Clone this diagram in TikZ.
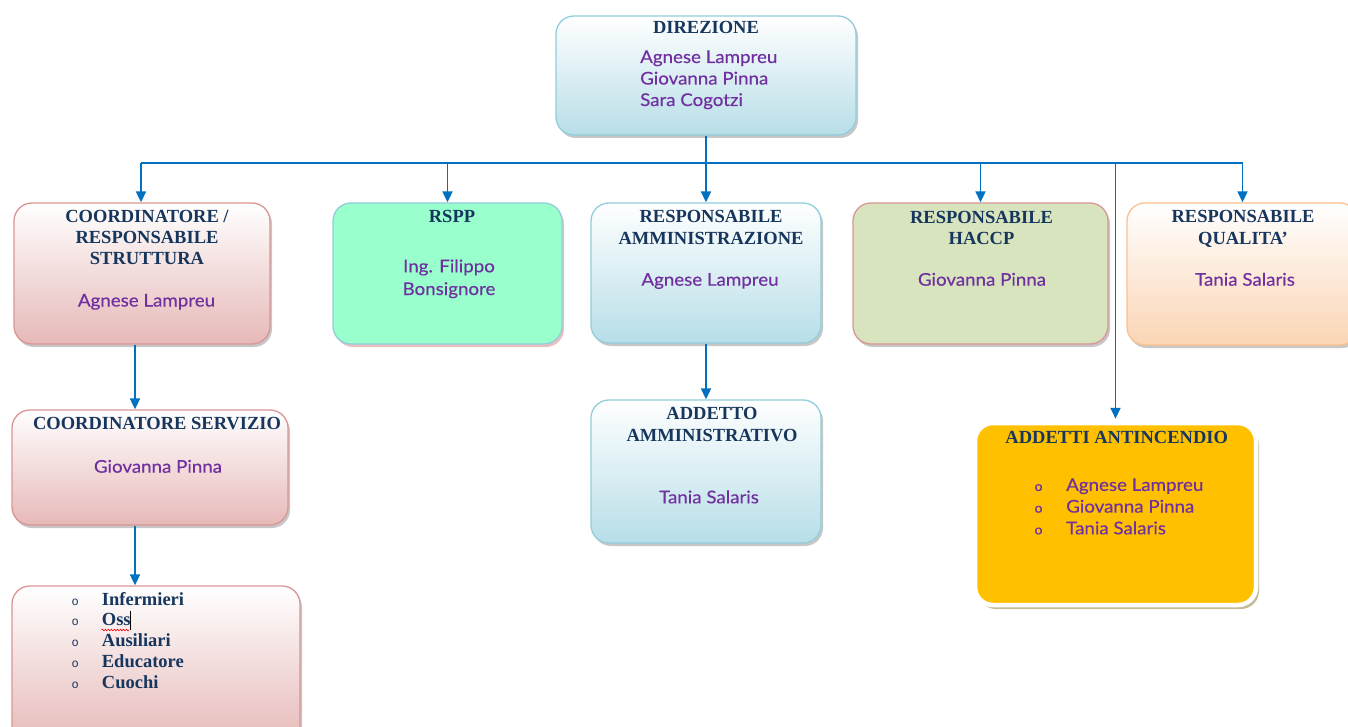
\documentclass[tikz,border=0pt]{standalone}
\usepackage{fontspec}
\setmainfont{Liberation Serif}
\newfontfamily\namefont{Lato}[FakeStretch=1.07, FakeBold=0.35]
\newfontfamily\bulfont{Liberation Mono}
\usetikzlibrary{arrows.meta,shadows,decorations.pathmorphing}
\definecolor{navy}{HTML}{17365D}
\definecolor{purp}{HTML}{7030A0}
\definecolor{arrowblue}{HTML}{0070C0}
\definecolor{bluefill}{HTML}{B7DEE8}
\definecolor{blueline}{HTML}{92CDDC}
\definecolor{pinkfill}{HTML}{E6B9B8}
\definecolor{pinkline}{HTML}{D99694}
\definecolor{orangefill}{HTML}{FBD5B5}
\definecolor{orangeline}{HTML}{FAC090}
\definecolor{mint}{HTML}{99FFCC}
\definecolor{olivefill}{HTML}{D7E4BD}
\definecolor{gold}{HTML}{FFC000}
\definecolor{tan}{HTML}{C4BD97}
\newcommand{\lbul}{\makebox[30.3pt][l]{\fontsize{12}{12}\selectfont\mdseries\bulfont o}}
\newcommand{\abul}{\makebox[31.6pt][l]{\fontsize{13}{13}\selectfont\namefont o}}
\tikzset{
  box/.style={rectangle, rounded corners=18pt, inner sep=0pt, line width=1.3pt},
  shad/.style={drop shadow={shadow xshift=2pt, shadow yshift=-3pt, fill=black, opacity=0.22}},
  bluebox/.style={box, shad, draw=blueline, top color=white, bottom color=bluefill},
  pinkbox/.style={box, shad, draw=pinkline, top color=white, bottom color=pinkfill},
  orangebox/.style={box, shad, draw=orangeline, top color=white, bottom color=orangefill},
  mintbox/.style={box, drop shadow={shadow xshift=2pt, shadow yshift=-3pt, fill=pinkline, opacity=0.6}, draw=blueline, fill=mint},
  olivebox/.style={box, shad, draw=pinkline, fill=olivefill},
  goldbox/.style={box, drop shadow={shadow xshift=3pt, shadow yshift=-4pt, fill=tan, opacity=1}, draw=white, line width=4.5pt, fill=gold},
  ttl/.style={font=\bfseries\fontsize{18.5}{21.2}\selectfont, text=navy, anchor=base, inner sep=0pt},
  nm/.style={font=\namefont\fontsize{17.5}{21.5}\selectfont, text=purp, anchor=base, inner sep=0pt},
  arr/.style={draw=arrowblue, line width=1.8pt, -{Triangle[width=10pt,length=11pt]}},
  bus/.style={draw=arrowblue, line width=1.8pt}
}
\begin{document}
\begin{tikzpicture}[x=1pt,y=-1pt]
\useasboundingbox (0,0) rectangle (1348,727);
\clip (0,0) rectangle (1348,727);
% boxes
\node[bluebox, minimum width=300pt, minimum height=119pt] (dir) at (706,75.5) {};
\node[pinkbox, minimum width=256pt, minimum height=141pt] (coord) at (142,273.5) {};
\node[mintbox, minimum width=229pt, minimum height=141pt] (rspp) at (447.5,273.5) {};
\node[bluebox, minimum width=230pt, minimum height=140pt] (amm) at (706,273) {};
\node[olivebox, minimum width=255pt, minimum height=141pt] (haccp) at (980.5,273.5) {};
\node[orangebox, minimum width=231pt, minimum height=142pt] (qual) at (1242.5,274) {};
\node[pinkbox, minimum width=276pt, minimum height=115pt] (serv) at (150,467.5) {};
\node[pinkbox, minimum width=288pt, minimum height=159pt] (list) at (156,665.5) {};
\node[bluebox, minimum width=230pt, minimum height=143pt] (addamm) at (706,471.5) {};
\node[goldbox, minimum width=281pt, minimum height=182pt] (antinc) at (1115.5,514) {};
% connectors
\coordinate (b1) at (141,163);
\coordinate (b2) at (447.5,163);
\coordinate (b3) at (706,163);
\coordinate (b4) at (980.5,163);
\coordinate (b5) at (1115.5,163);
\coordinate (b6) at (1242.5,163);
\draw[bus] (b1) -- (b6);
\draw[arr] (dir.south) -- (amm.north);
\draw[arr] (b1) -- (b1 |- coord.north);
\draw[arr] (b2) -- (rspp.north);
\draw[arr] (b4) -- (haccp.north);
\draw[arr] (b6) -- (qual.north);
\draw[arr] (b5) -- ([yshift=2pt]antinc.north);
\coordinate (c1) at (135,344);
\draw[arr] (c1 |- coord.south) -- (c1 |- serv.north);
\draw[arr] (c1 |- serv.south) -- (c1 |- list.north);
\draw[arr] (amm.south) -- (addamm.north);
% texts
\node[ttl] (tdir) at (706,34) {DIREZIONE};
\node[nm, align=left, anchor=base west] (ndir) at (640,106) {Agnese Lampreu\\Giovanna Pinna\\Sara Cogotzi};
\node[ttl, align=center, font=\bfseries\fontsize{18.5}{20.7}\selectfont] (tcoord) at (147,264) {COORDINATORE /\\RESPONSABILE\\STRUTTURA};
\node[nm] (ncoord) at (146.5,306.5) {Agnese Lampreu};
\node[ttl] (trspp) at (452,222.3) {RSPP};
\node[nm, align=center, font=\namefont\fontsize{17.5}{22.7}\selectfont] (nrspp) at (449,295) {Ing. Filippo\\Bonsignore};
\node[ttl, align=center] (tamm) at (711,244) {RESPONSABILE\\AMMINISTRAZIONE};
\node[nm] (namm) at (710,285.7) {Agnese Lampreu};
\node[ttl, align=center] (thaccp) at (981.5,244.3) {RESPONSABILE\\HACCP};
\node[nm] (nhaccp) at (982,285.7) {Giovanna Pinna};
\node[ttl, align=center] (tqual) at (1243,244) {RESPONSABILE\\QUALITA’};
\node[nm] (nqual) at (1245,285.7) {Tania Salaris};
\node[ttl] (tserv) at (157,429) {COORDINATORE SERVIZIO};
\node[nm] (nserv) at (158,472.7) {Giovanna Pinna};
\node[ttl, align=left, anchor=base west, font=\bfseries\fontsize{18.5}{20.8}\selectfont] (nlist) at (71.4,688.3) {\lbul Infermieri\\\lbul Oss\\\lbul Ausiliari\\\lbul Educatore\\\lbul Cuochi};
\draw[red, line width=0.6pt, decorate, decoration={snake, amplitude=0.8pt, segment length=3pt}] (101.5,630) -- (129,630);
\draw[black, line width=0.7pt] (130,611) -- (130,630);
\node[ttl, align=center] (taddamm) at (712,441) {ADDETTO\\AMMINISTRATIVO};
\node[nm] (naddamm) at (709,503.3) {Tania Salaris};
\node[ttl] (tantinc) at (1116.7,443.3) {ADDETTI ANTINCENDIO};
\node[nm, align=left, anchor=base west, font=\namefont\fontsize{17.5}{21.7}\selectfont] (nantinc) at (1034.4,534.3) {\abul Agnese Lampreu\\\abul Giovanna Pinna\\\abul Tania Salaris};
\end{tikzpicture}
\end{document}
